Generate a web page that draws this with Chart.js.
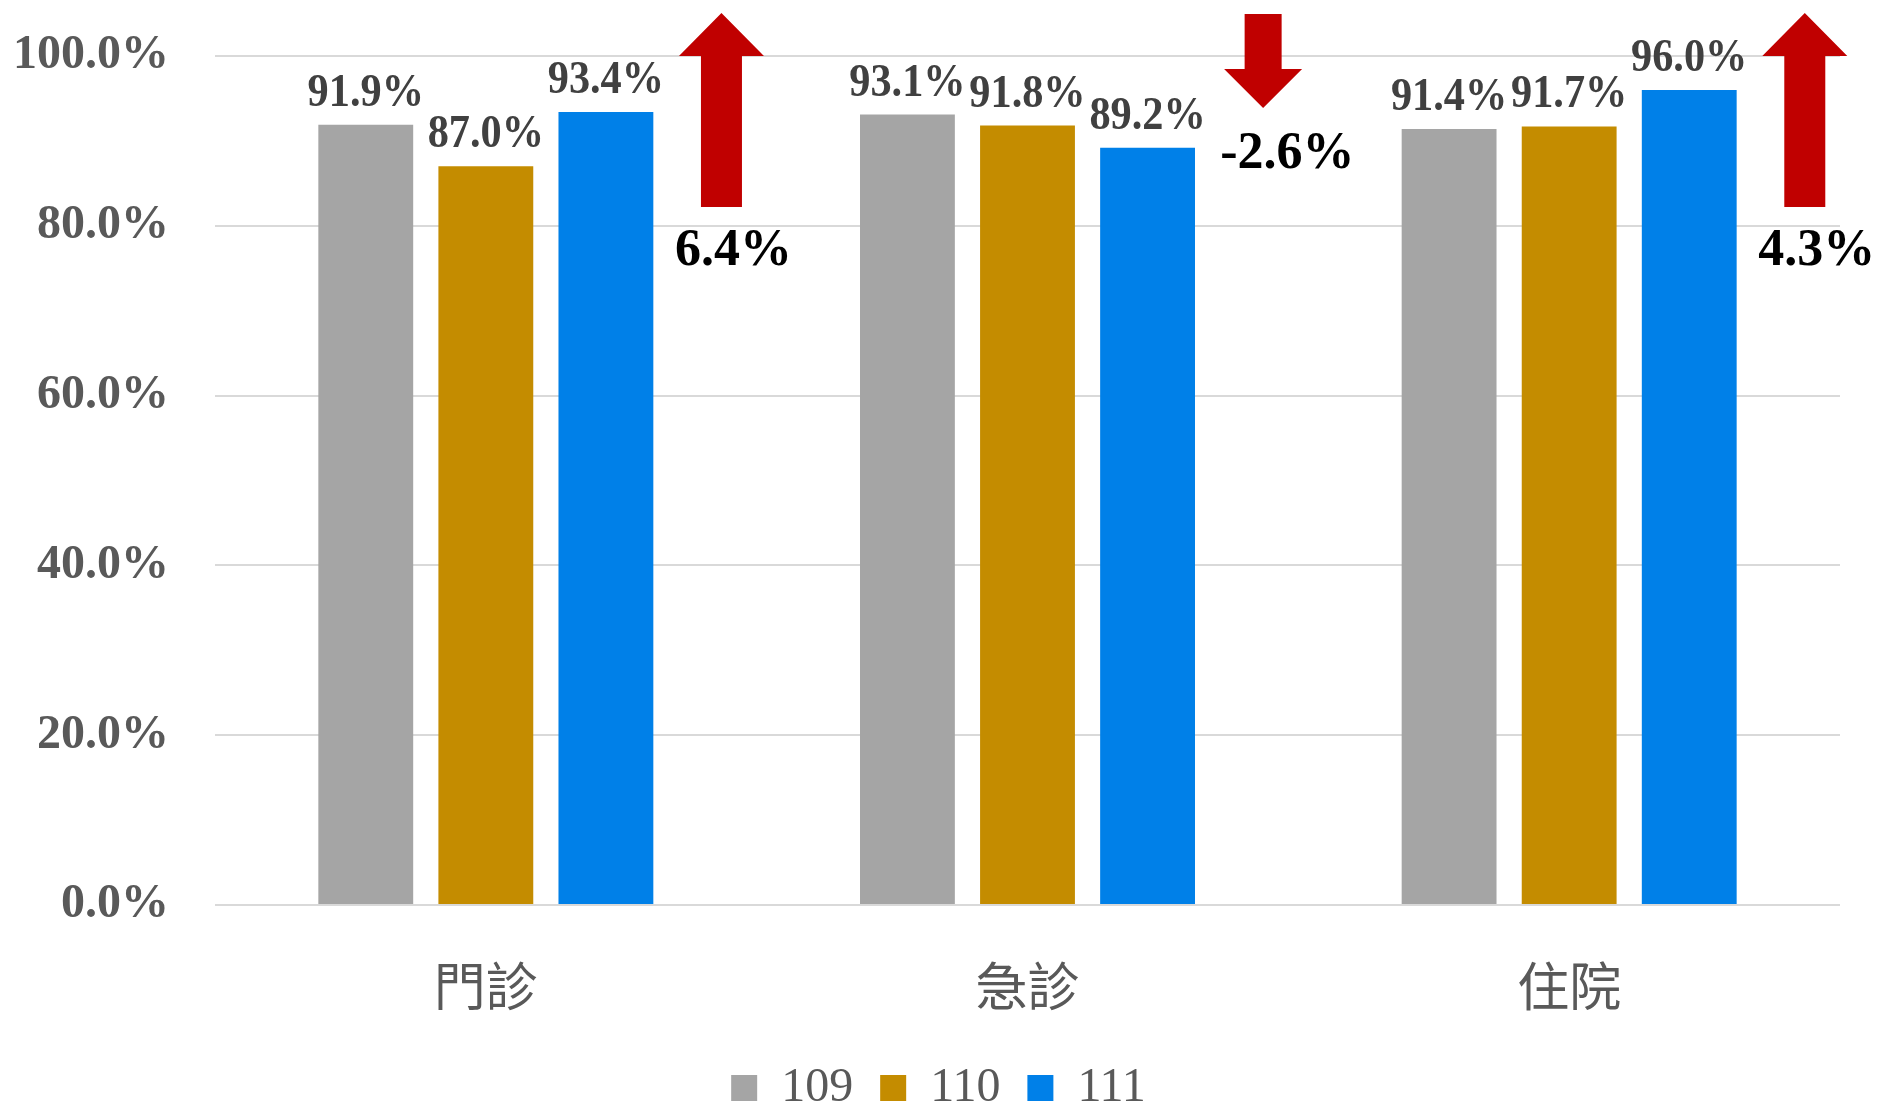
<!DOCTYPE html>
<html>
<head>
<meta charset="utf-8">
<script src="https://cdn.jsdelivr.net/npm/chart.js@4/dist/chart.umd.min.js"></script>
<style>
  html, body { margin: 0; padding: 0; background: #fff; }
</style>
</head>
<body>
<canvas id="chart" width="1883" height="1104"></canvas>
<script>
    // Chart data
    const categories = ['門診', '急診', '住院'];
    const seriesNames = ['109', '110', '111'];
    const values109 = [91.9, 93.1, 91.4];
    const values110 = [87.0, 91.8, 91.7];
    const values111 = [93.4, 89.2, 96.0];
    const changes = [6.4, -2.6, 4.3];
    const yTicks = [0, 20, 40, 60, 80, 100];
    const yTickLabels = ['0.0%', '20.0%', '40.0%', '60.0%', '80.0%', '100.0%'];

    const serif = '"Liberation Serif", "Times New Roman", serif';
    const cjk = '"Noto Sans CJK TC", "Noto Sans CJK SC", sans-serif';

    // value labels above bars + change arrows
    const annotate = {
        id: 'annotate',
        afterLayout(chart) {
            // nudge legend a bit right / down to sit like the original
            const lg = chart.legend;
            lg.left += 12; lg.right += 12;
            lg.top += 3; lg.bottom += 3;
        },
        afterDatasetsDraw(chart) {
            const ctx = chart.ctx;
            const top = chart.chartArea.top;
            ctx.save();
            ctx.fillStyle = '#404040';
            ctx.font = 'bold 47px ' + serif;
            ctx.textAlign = 'center';
            ctx.textBaseline = 'alphabetic';
            chart.data.datasets.forEach((ds, di) => {
                chart.getDatasetMeta(di).data.forEach((bar, i) => {
                    ctx.save();
                    ctx.translate(bar.x, bar.y - 19);
                    ctx.scale(0.9, 1);
                    ctx.fillText(ds.data[i].toFixed(1) + '%', 0, 0);
                    ctx.restore();
                });
            });

            const xs = chart.scales.x;
            changes.forEach((c, i) => {
                const cx = xs.getPixelForValue(i + 0.435);
                ctx.fillStyle = '#C00000';
                ctx.beginPath();
                let headW, textY;
                if (c >= 0) {
                    const shaftW = 41;
                    headW = 85;
                    ctx.moveTo(cx, top - 43);
                    ctx.lineTo(cx + headW / 2, top);
                    ctx.lineTo(cx + shaftW / 2, top);
                    ctx.lineTo(cx + shaftW / 2, top + 151);
                    ctx.lineTo(cx - shaftW / 2, top + 151);
                    ctx.lineTo(cx - shaftW / 2, top);
                    ctx.lineTo(cx - headW / 2, top);
                    textY = top + 209;
                } else {
                    const shaftW = 37;
                    headW = 78;
                    ctx.moveTo(cx - shaftW / 2, top - 42);
                    ctx.lineTo(cx + shaftW / 2, top - 42);
                    ctx.lineTo(cx + shaftW / 2, top + 13);
                    ctx.lineTo(cx + headW / 2, top + 13);
                    ctx.lineTo(cx, top + 52);
                    ctx.lineTo(cx - headW / 2, top + 13);
                    ctx.lineTo(cx - shaftW / 2, top + 13);
                    textY = top + 112;
                }
                ctx.closePath();
                ctx.fill();
                ctx.fillStyle = '#000000';
                ctx.font = 'bold 52px ' + serif;
                ctx.textAlign = 'left';
                ctx.fillText(c.toFixed(1) + '%', cx - headW / 2 - 4, textY);
            });
            ctx.restore();
        }
    };

    const ctx = document.getElementById('chart').getContext('2d');
    new Chart(ctx, {
        type: 'bar',
        data: {
            labels: categories,
            datasets: [
                { label: seriesNames[0], data: values109, backgroundColor: '#A5A5A5', borderWidth: 0 },
                { label: seriesNames[1], data: values110, backgroundColor: '#C48C00', borderWidth: 0 },
                { label: seriesNames[2], data: values111, backgroundColor: '#0080E8', borderWidth: 0 }
            ]
        },
        options: {
            responsive: false,
            animation: false,
            devicePixelRatio: 1,
            categoryPercentage: 0.665,
            barPercentage: 0.79,
            layout: { padding: { top: 56, left: 13, right: 43, bottom: -15 } },
            plugins: {
                legend: {
                    position: 'bottom',
                    labels: {
                        boxWidth: 26,
                        boxHeight: 26,
                        padding: 27,
                        color: '#595959',
                        font: { family: serif, size: 48 }
                    }
                },
                tooltip: { enabled: false }
            },
            scales: {
                x: {
                    grid: { display: false, drawTicks: true, tickLength: 33, tickColor: 'transparent' },
                    border: { display: false },
                    ticks: {
                        color: '#595959',
                        padding: 0,
                        font: { family: cjk, size: 52, lineHeight: 1.846 }
                    }
                },
                y: {
                    min: 0,
                    max: 100,
                    afterBuildTicks: scale => {
                        scale.ticks = yTicks.map(v => ({ value: v }));
                    },
                    grid: { color: '#D9D9D9', lineWidth: 2, drawTicks: true, tickLength: 46, tickColor: 'transparent' },
                    border: { display: false },
                    ticks: {
                        color: '#595959',
                        padding: 0,
                        font: { family: serif, size: 48, weight: 'bold' },
                        callback: (v, i) => yTickLabels[i]
                    }
                }
            }
        },
        plugins: [annotate]
    });
</script>
</body>
</html>
